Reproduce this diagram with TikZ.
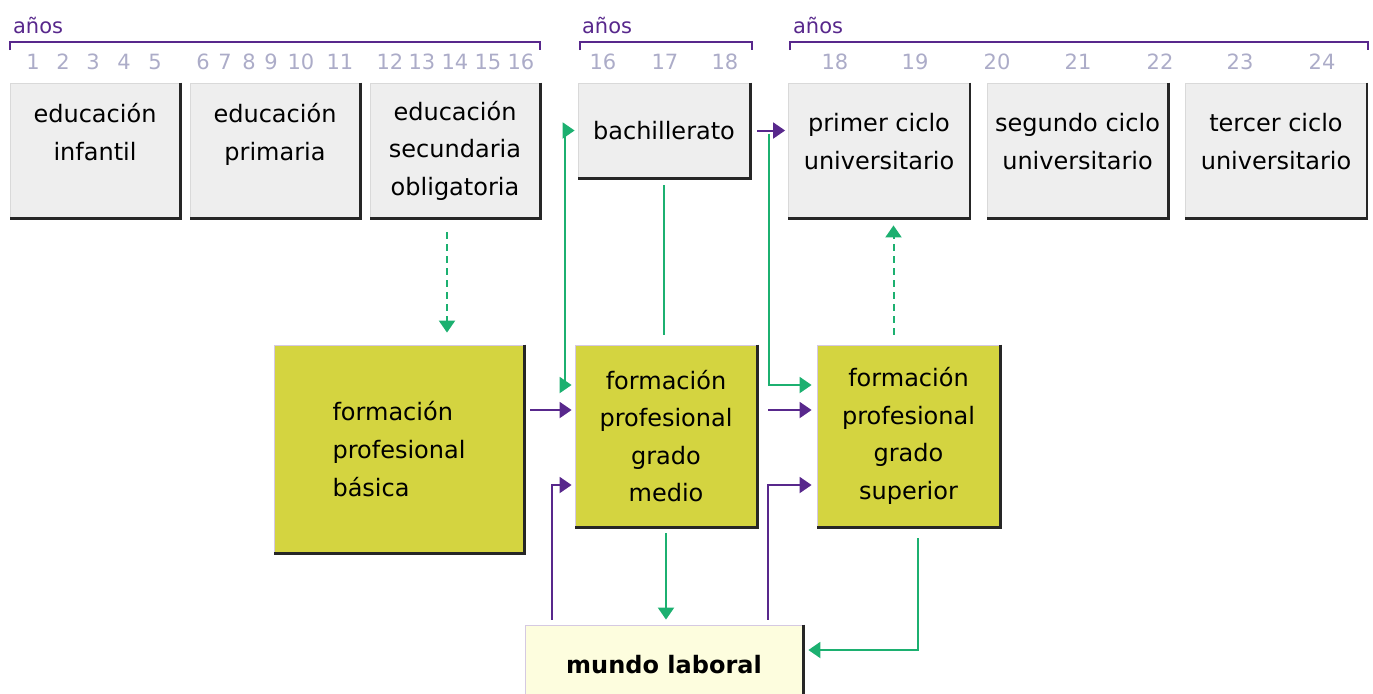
\documentclass[tikz,border=0pt]{standalone}
\usepackage{fontspec}
\setmainfont{DejaVu Sans}
\usetikzlibrary{arrows.meta}
\usetikzlibrary{calc}

\definecolor{lineGreen}{RGB}{28,176,112}
\definecolor{linePurple}{RGB}{88,40,140}
\definecolor{stageGray}{RGB}{238,238,238}
\definecolor{fpYellow}{RGB}{212,212,64}
\definecolor{workCream}{RGB}{253,253,222}
\definecolor{ageGray}{RGB}{172,172,200}

\tikzset{
  stage/.style = {rectangle, draw = black!15, fill = stageGray, align = center,
    inner sep = 2pt, font = \fontsize{12}{18.8}\selectfont},
  school/.style = {stage, minimum width = 85pt, minimum height = 67.5pt},
  univ/.style = {stage, minimum width = 90.5pt, minimum height = 67.5pt,
    text height = 22pt, text depth = 3pt},
  fp/.style = {stage, fill = fpYellow, draw = linePurple!25},
  boxShadow/.style = {line width = 1.4pt, black!85},
  ageNum/.style = {text = ageGray, inner sep = 0pt, font = \fontsize{10.5}{12}\selectfont},
  ageLabel/.style = {anchor = west, text = linePurple, font = \fontsize{10.5}{12}\selectfont},
  ageBracket/.style = {linePurple, line width = 1pt},
  headTip/.style = {-{Triangle[length = 6pt, width = 8pt]}},
  greenArrow/.style = {lineGreen, line width = 1pt, headTip},
  purpleArrow/.style = {linePurple, line width = 1pt, headTip},
  hint/.style = {dash pattern = on 3.5pt off 2.5pt}
}

\begin{document}
\begin{tikzpicture}[x = 0.5pt, y = -0.5pt]
  \useasboundingbox (0, 0) rectangle (1373, 693);

  % ages
  \node[ageLabel] (yrsA) at (6, 25) {años};
  \node[ageLabel] (yrsB) at (575, 25) {años};
  \node[ageLabel] (yrsC) at (786, 25) {años};
  \draw[ageBracket] (10, 50) |- (540, 42) -- (540, 50);
  \draw[ageBracket] (580, 50) |- (752, 42) -- (752, 50);
  \draw[ageBracket] (790, 50) |- (1368, 42) -- (1368, 50);

  \foreach \a/\x in {1/33, 2/63, 3/93, 4/124, 5/155, 6/203, 7/225, 8/249,
    9/271, 10/301, 11/340, 12/390, 13/422, 14/455, 15/488, 16/521,
    16/603, 17/665, 18/725, 18/835, 19/915, 20/997, 21/1078, 22/1160,
    23/1240, 24/1322}
    \node[ageNum] (age\x) at (\x, 62) {\a};

  % stages
  \node[school] (edInf) at (95, 150.5) {educación\\infantil\\~};
  \node[school] (edPrim) at (275, 150.5) {educación\\primaria\\~};
  \node[school] (ESO) at (455, 150.5) {educación\\secundaria\\obligatoria};
  \node[stage, minimum width = 86pt, minimum height = 47.5pt] (bach)
    at (664, 130.5) {bachillerato};
  \node[univ] (primer) at (879, 150.5) {primer ciclo\\universitario};
  \node[univ] (segundo) at (1077.5, 150.5) {segundo ciclo\\universitario};
  \node[univ] (tercer) at (1276, 150.5) {tercer ciclo\\universitario};

  \node[fp, align = left, minimum width = 125pt, minimum height = 104pt] (FPB)
    at (399, 449) {formación\\profesional\\básica};
  \node[fp, minimum width = 91pt, minimum height = 91pt] (FPGM)
    at (666, 436) {formación\\profesional\\grado\\medio};
  \node[fp, minimum width = 91.5pt, minimum height = 91pt] (FPGS)
    at (908.5, 436) {formación\\profesional\\grado\\superior};
  \node[stage, fill = workCream, draw = linePurple!25, minimum width = 139pt,
    minimum height = 40pt, font = \fontsize{12}{14}\selectfont\bfseries] (mundo)
    at (664, 665) {mundo laboral};

  \foreach \b in {edInf, edPrim, ESO, bach, primer, segundo, tercer, FPB, FPGM, FPGS, mundo}
    \draw[boxShadow] (\b.north east) -- (\b.south east) -- (\b.south west);

  % connectors
  \coordinate (esoOut) at ([xshift = -4pt, yshift = -7pt]ESO.south);
  \draw[greenArrow, hint, shorten >= 6pt] (esoOut) -- (esoOut |- FPB.north);

  \draw[lineGreen, line width = 1pt,
    {Triangle[length = 6pt, width = 8pt]}-{Triangle[length = 6pt, width = 8pt]},
    shorten <= 1.5pt, shorten >= 1.5pt]
    (bach.west) -- ++(-12.5, 0) |- ([yshift = 25.5pt]FPGM.west);
  \draw[lineGreen, line width = 1pt, shorten <= 3.5pt, shorten >= 5pt]
    (bach.south) -- (bach.south |- FPGM.north);

  \draw[purpleArrow, shorten <= 3.5pt, shorten >= 1.5pt]
    (bach.east) -- (bach.east -| primer.west);
  \coordinate (split) at ($(bach.east)!0.5!(bach.east -| primer.west) + (0, 3)$);
  \draw[greenArrow, shorten >= 2.5pt] (split) |- ([yshift = 25.5pt]FPGS.west);

  \draw[purpleArrow, shorten <= 3pt, shorten >= 1.5pt]
    ([yshift = 13pt]FPGM.west -| FPB.east) -- ([yshift = 13pt]FPGM.west);
  \draw[purpleArrow, shorten <= 5.5pt, shorten >= 2.5pt]
    ([yshift = 13pt]FPGS.west -| FPGM.east) -- ([yshift = 13pt]FPGS.west);

  \draw[purpleArrow, shorten <= 2.5pt, shorten >= 1.5pt]
    ([xshift = 13.5pt]mundo.north west) |- ([yshift = -24.5pt]FPGM.west);
  \draw[purpleArrow, shorten <= 2.5pt, shorten >= 2.5pt]
    ([xshift = -17.5pt]mundo.north east) |- ([yshift = -24.5pt]FPGS.west);

  \draw[greenArrow, shorten <= 3pt, shorten >= 2.5pt]
    (FPGM.south) -- (FPGM.south |- mundo.north);
  \draw[greenArrow, hint, shorten <= 5pt, shorten >= 3.5pt]
    ([xshift = -7.5pt]FPGS.north) -- ([xshift = -7.5pt]FPGS.north |- primer.south);
  \draw[greenArrow, shorten <= 5.5pt, shorten >= 2.5pt]
    ([xshift = 4.75pt]FPGS.south) |- ([yshift = 7.5pt]mundo.east);
\end{tikzpicture}
\end{document}
